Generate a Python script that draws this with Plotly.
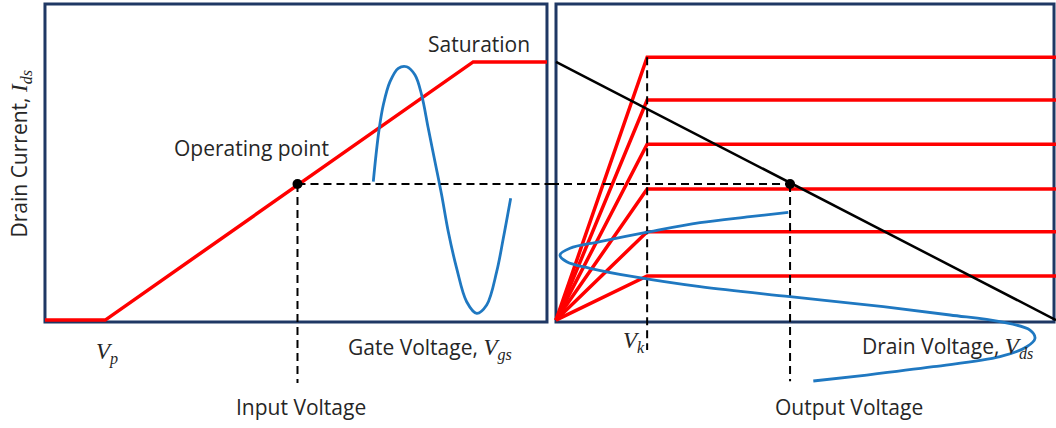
import plotly.graph_objects as go

# ---- Left panel (transfer characteristic): x = gate voltage, y = drain current (0..100 units)
transfer_x = [0, 12.0, 85.3, 100]
transfer_y = [0.6, 0.6, 81.8, 81.8]
q_left = (50.3, 43.4)
q_drop_y = -19.2

in_sine_x = [65.40, 65.94, 66.59, 67.39, 68.73, 70.38, 72.05, 73.71, 75.04, 76.35, 77.69,
             79.02, 80.34, 82.01, 84.00, 86.00, 87.99, 89.98, 91.30, 92.77]
in_sine_y = [44.12, 52.52, 60.91, 68.24, 75.57, 79.78, 80.28, 77.67, 71.38, 60.91, 50.41,
             39.94, 28.40, 16.89, 6.38, 2.74, 5.35, 15.82, 26.32, 38.90]

# ---- Right panel (output characteristic): x = drain voltage, y = drain current
knee_x = 18.3
curve_levels = [83.24, 69.81, 55.88, 41.82, 28.40, 14.47]
load_x = [0, 100.4]
load_y = [81.8, 0.6]
q_right = (47.0, 43.4)
vk_top, vk_bottom = 83.24, -8.8
out_drop_y = -18.6

out_sine_x = [46.65, 38.96, 28.92, 18.88, 8.84, 2.81, 0.80, 2.15, 6.83, 15.52, 28.92, 46.99,
              65.72, 79.12, 89.16, 95.18, 96.18, 94.52, 89.16, 75.76, 62.39, 51.67]
out_sine_y = [34.50, 33.11, 31.23, 28.40, 25.25, 23.18, 21.07, 18.96, 16.89, 14.25, 11.10, 7.96,
              4.81, 2.20, 0.09, -2.52, -5.13, -7.77, -10.91, -14.06, -16.67, -18.55]

RED = "#ff0000"
BLUE = "#1f78c1"
NAVY = "#1f3864"
TXT = "#262626"
FONT = "Open Sans"
MATH = "Liberation Serif"
DASH = dict(color="black", width=2, dash="8px,5px")

fig = go.Figure()

# left panel traces
fig.add_trace(go.Scatter(x=transfer_x, y=transfer_y, mode="lines",
                         line=dict(color=RED, width=3.5), xaxis="x", yaxis="y"))
fig.add_trace(go.Scatter(x=in_sine_x, y=in_sine_y, mode="lines",
                         line=dict(color=BLUE, width=2.8, shape="spline"), xaxis="x", yaxis="y"))
fig.add_trace(go.Scatter(x=[q_left[0], 100.8], y=[q_left[1], q_left[1]], mode="lines",
                         line=DASH, xaxis="x", yaxis="y"))
fig.add_trace(go.Scatter(x=[q_left[0], q_left[0]], y=[q_left[1], q_drop_y], mode="lines",
                         line=DASH, xaxis="x", yaxis="y"))
fig.add_trace(go.Scatter(x=[q_left[0]], y=[q_left[1]], mode="markers",
                         marker=dict(color="black", size=10), xaxis="x", yaxis="y"))

# right panel traces
for lvl in curve_levels:
    fig.add_trace(go.Scatter(x=[0, knee_x, 100.4], y=[0.6, lvl, lvl], mode="lines",
                             line=dict(color=RED, width=3.5), xaxis="x2", yaxis="y"))
fig.add_trace(go.Scatter(x=load_x, y=load_y, mode="lines",
                         line=dict(color="black", width=2.5), xaxis="x2", yaxis="y"))
fig.add_trace(go.Scatter(x=[-1.0, q_right[0]], y=[q_right[1], q_right[1]], mode="lines",
                         line=DASH, xaxis="x2", yaxis="y"))
fig.add_trace(go.Scatter(x=[q_right[0], q_right[0]], y=[q_right[1], out_drop_y], mode="lines",
                         line=DASH, xaxis="x2", yaxis="y"))
fig.add_trace(go.Scatter(x=[knee_x, knee_x], y=[vk_top, vk_bottom], mode="lines",
                         line=DASH, xaxis="x2", yaxis="y"))
fig.add_trace(go.Scatter(x=out_sine_x, y=out_sine_y, mode="lines",
                         line=dict(color=BLUE, width=2.8, shape="spline"), xaxis="x2", yaxis="y"))
fig.add_trace(go.Scatter(x=[q_right[0]], y=[q_right[1]], mode="markers",
                         marker=dict(color="black", size=10), xaxis="x2", yaxis="y"))

# panel frames
for xr in ("x", "x2"):
    fig.add_shape(type="rect", xref=xr, yref="y", x0=0, x1=100, y0=0, y1=100,
                  line=dict(color=NAVY, width=3), layer="below")

def msub(s, sub):
    return (f'<span style="font-family:{MATH};font-size:23px"><i>{s}</i>'
            f'<sub><i>{sub}</i></sub></span>')

annots = [
    ("x", 86.45, 87.4, "Saturation", 0),
    ("x", 41.1, 54.7, "Operating point", 0),
    ("x", -4.9, 52.8, "Drain Current, " + msub("I", "ds"), -90),
    ("x", 12.35, -9.75, msub("V", "p"), 0),
    ("x", 76.6, -8.2, "Gate Voltage, " + msub("V", "gs"), 0),
    ("x", 51.0, -26.7, "Input Voltage", 0),
    ("x2", 15.7, -6.3, msub("V", "k"), 0),
    ("x2", 78.6, -7.9, "Drain Voltage, " + msub("V", "ds"), 0),
    ("x2", 58.9, -26.7, "Output Voltage", 0),
]
for xr, ax, ay, t, ang in annots:
    fig.add_annotation(xref=xr, yref="y", x=ax, y=ay, text=t, showarrow=False,
                       textangle=ang, font=dict(family=FONT, size=21, color=TXT),
                       xanchor="center", yanchor="middle")

ax_common = dict(visible=False, fixedrange=True)
fig.update_layout(
    width=1056, height=428,
    margin=dict(l=0, r=0, t=0, b=0),
    paper_bgcolor="white", plot_bgcolor="white",
    showlegend=False,
    xaxis=dict(domain=[0, 551 / 1056], range=[-8.96, 100.80], **ax_common),
    xaxis2=dict(domain=[551 / 1056, 1], range=[-1.004, 100.40], **ax_common),
    yaxis=dict(domain=[0, 1], range=[-33.33, 101.26], **ax_common),
)

fig.write_html("out.html", config={"displayModeBar": False},
               post_script="document.body.style.margin='0';")
